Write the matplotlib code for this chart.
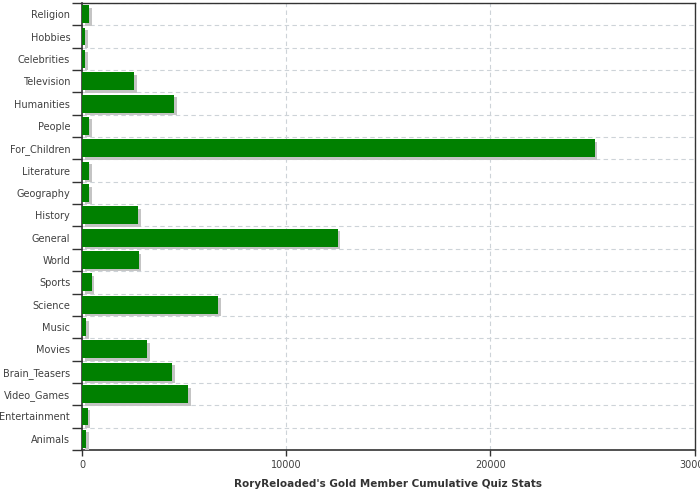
import matplotlib
matplotlib.use("Agg")
import matplotlib.pyplot as plt
import matplotlib.patheffects as pe
import numpy as np

categories = ["Religion", "Hobbies", "Celebrities", "Television", "Humanities", "People",
              "For_Children", "Literature", "Geography", "History", "General", "World",
              "Sports", "Science", "Music", "Movies", "Brain_Teasers", "Video_Games",
              "Entertainment", "Animals"]
values = [360, 150, 150, 2550, 4510, 350, 25120, 350, 350, 2750, 12530, 2790,
          480, 6670, 200, 3190, 4410, 5200, 290, 200]
xticks = [0, 10000, 20000, 30000]
xlabel = "RoryReloaded's Gold Member Cumulative Quiz Stats"

fig = plt.figure(figsize=(7, 5), dpi=100)
ax = fig.add_axes([82/700, 1-450/500, (694.6-82)/700, (450-3)/500])

y = np.arange(len(categories))
bars = ax.barh(y, values, height=0.8, color="#008000", zorder=3)
for b in bars:
    b.set_path_effects([pe.SimplePatchShadow(offset=(1.8, -1.8), shadow_rgbFace="#c4c4c4", alpha=1.0),
                        pe.Normal()])

ax.set_ylim(len(categories) - 0.5, -0.5)
ax.set_xlim(0, 30000)

ax.set_yticks(y)
ax.set_yticklabels(categories)
ax.set_yticks(np.arange(len(categories) + 1) - 0.5, minor=True)
ax.tick_params(axis="y", which="major", length=0, pad=8.5, labelsize=7, labelcolor="#404040")
ax.tick_params(axis="y", which="minor", length=7, width=1, color="#333333", direction="out")

ax.set_xticks(xticks)
ax.set_xticklabels([str(t) for t in xticks])
ax.tick_params(axis="x", which="major", length=4, width=1, color="#333333", labelsize=7,
               labelcolor="#404040", pad=3)

ax.grid(axis="y", which="minor", color="#cdd3d8", linestyle=(0, (4, 3)), linewidth=0.8, zorder=0)
ax.grid(axis="x", which="major", color="#cdd3d8", linestyle=(0, (4, 3)), linewidth=0.8, zorder=0)
ax.grid(axis="y", which="major", visible=False)

for s in ["left", "bottom"]:
    ax.spines[s].set_color("#333333")
    ax.spines[s].set_linewidth(1.2)
for s in ["top", "right"]:
    ax.spines[s].set_color("#333333")
    ax.spines[s].set_linewidth(1.0)

ax.set_xlabel(xlabel, fontsize=7.5, fontweight="bold", color="#333333", labelpad=7)

fig.savefig("out.png", dpi=100)
